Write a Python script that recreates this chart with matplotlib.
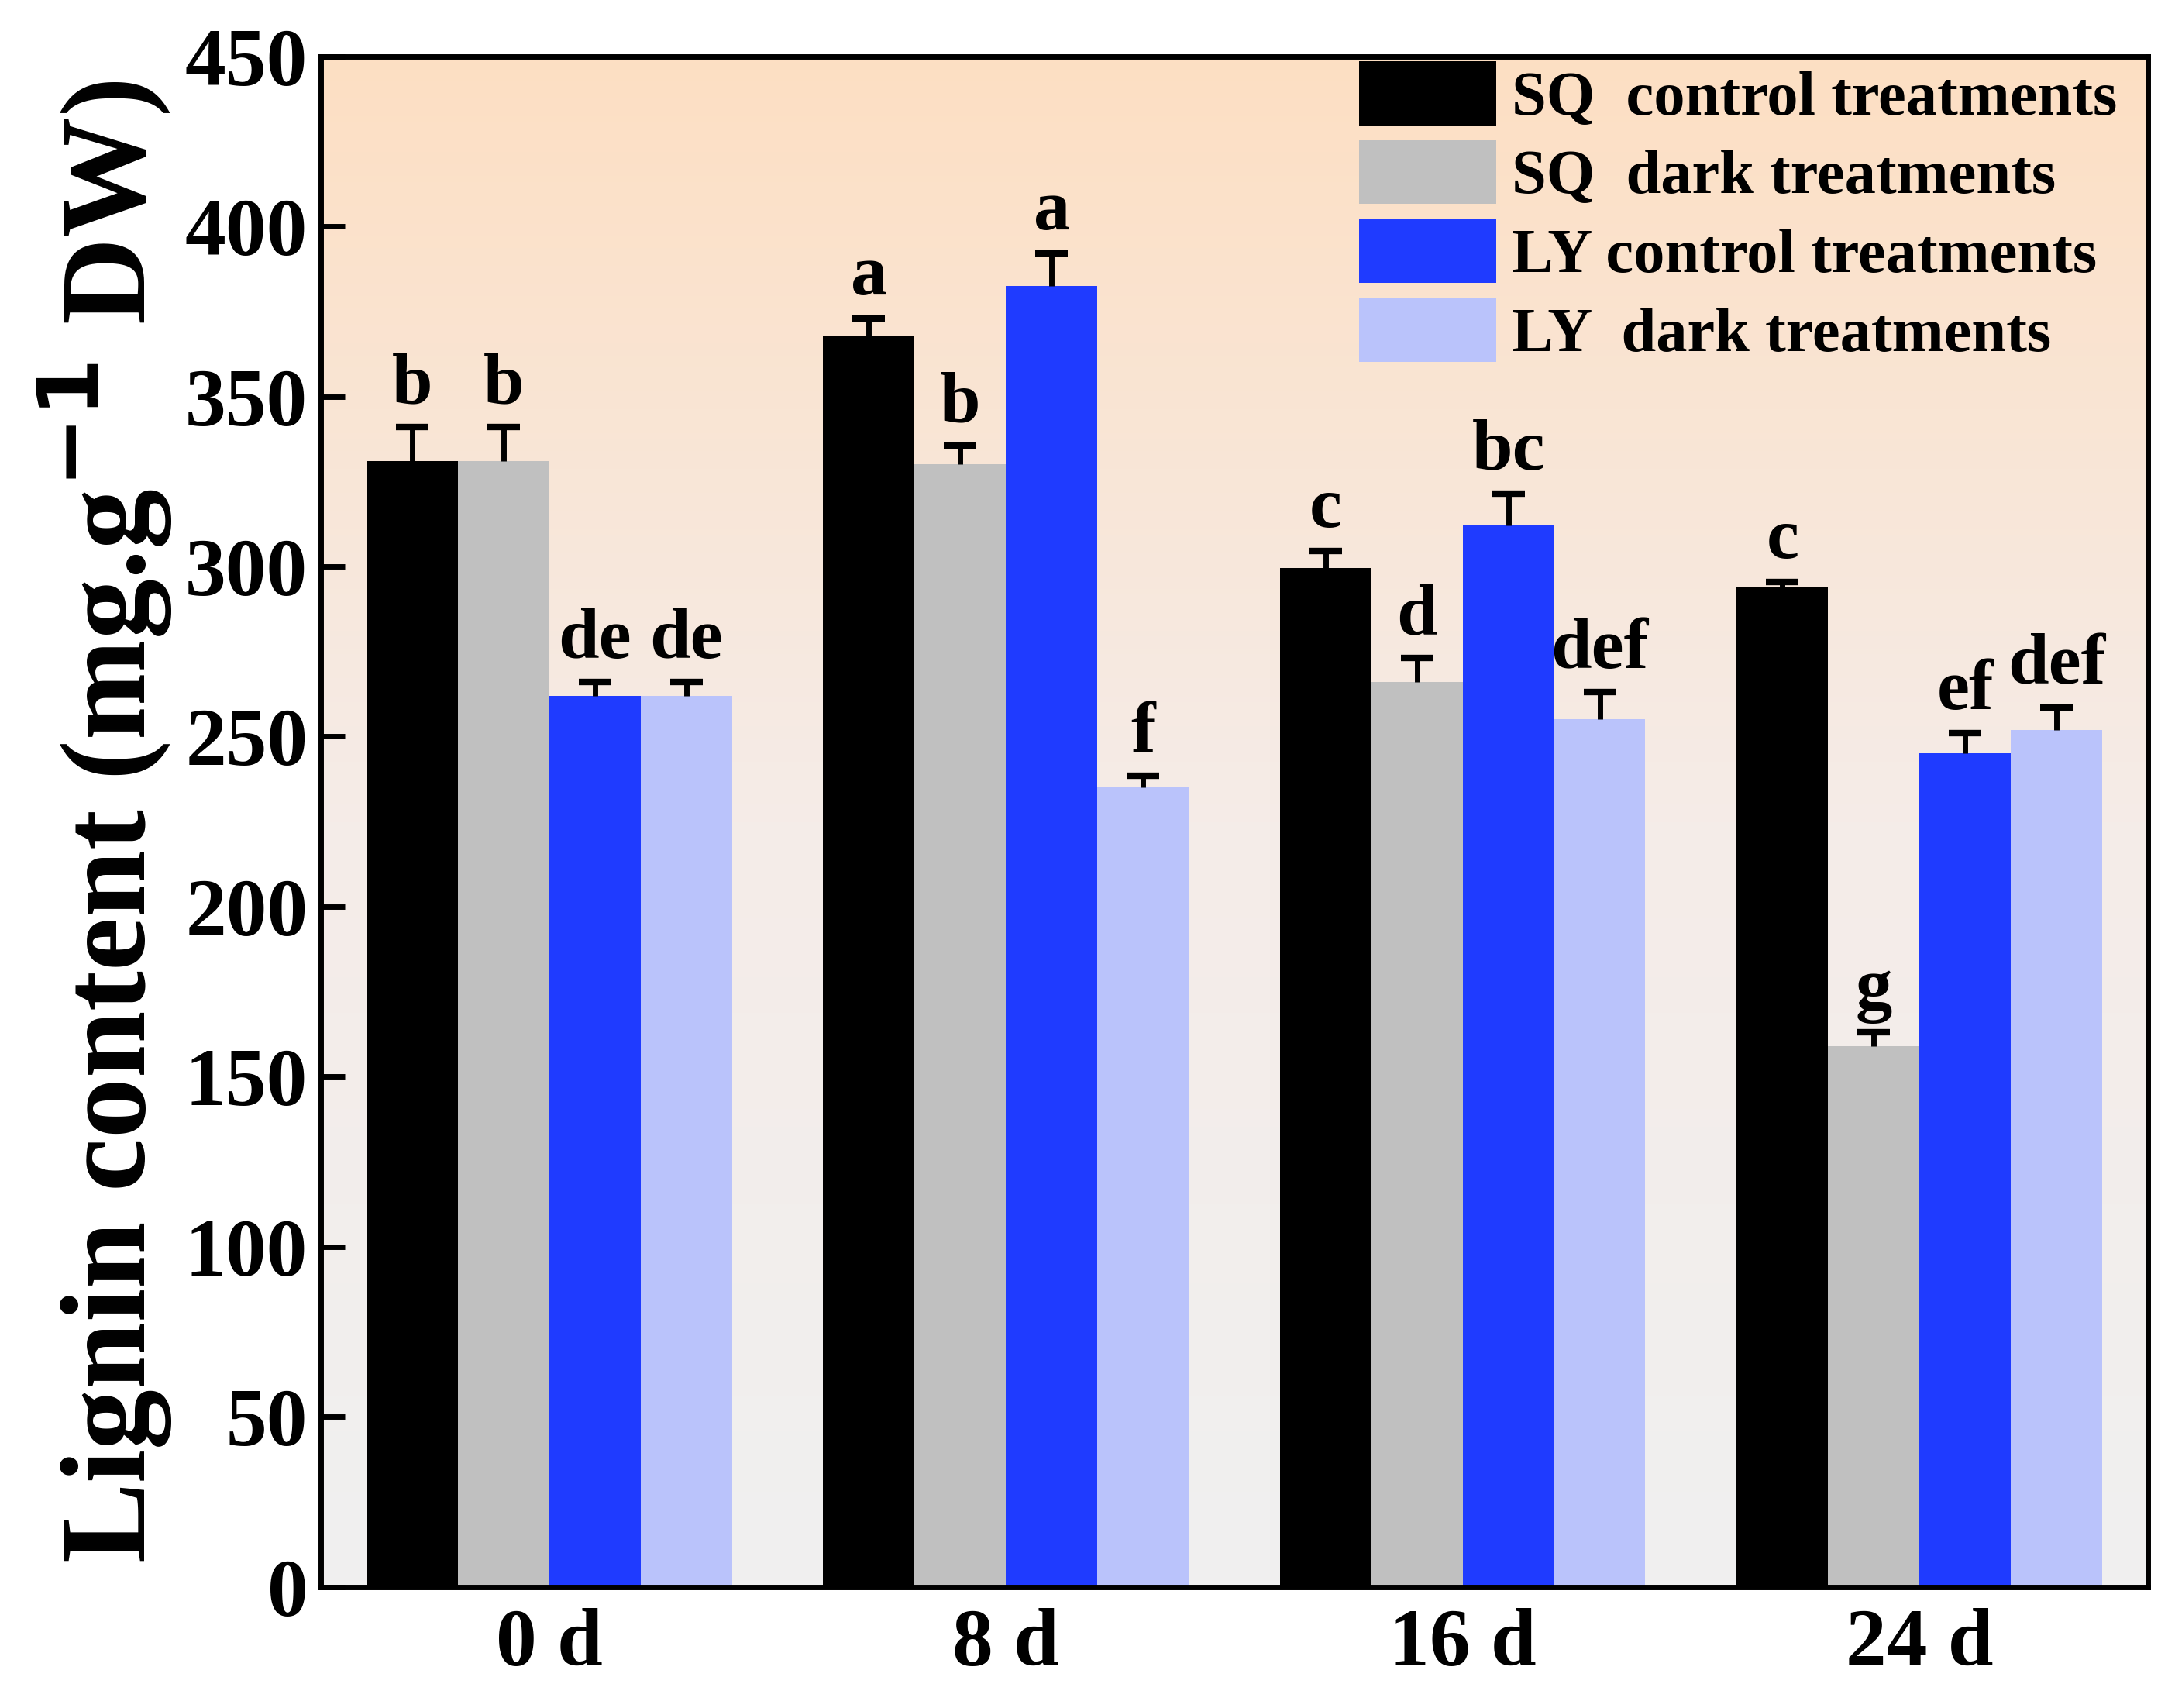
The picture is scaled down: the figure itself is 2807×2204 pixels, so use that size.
import numpy as np
import matplotlib
matplotlib.use("Agg")
import matplotlib.pyplot as plt
from matplotlib.colors import LinearSegmentedColormap

plt.rcParams['font.family'] = ['Liberation Serif', 'DejaVu Serif']
plt.rcParams['font.weight'] = 'bold'
plt.rcParams['mathtext.default'] = 'bf'

days = ["0 d", "8 d", "16 d", "24 d"]
series = ["SQ  control treatments", "SQ  dark treatments",
          "LY control treatments", "LY  dark treatments"]
colors = ["#000000", "#C0C0C0", "#1F3BFF", "#BAC3FB"]

sq_control = [331, 368, 299.5, 294]
sq_dark = [331, 330, 266, 159]
ly_control = [262, 382.5, 312, 245]
ly_dark = [262, 235, 255, 252]
values = [sq_control, sq_dark, ly_control, ly_dark]

sq_control_err = [10, 5, 5, 1.5]
sq_dark_err = [10, 5.5, 7, 4]
ly_control_err = [4, 9.5, 9.5, 6]
ly_dark_err = [4, 3.5, 8, 6.5]
errors = [sq_control_err, sq_dark_err, ly_control_err, ly_dark_err]

sq_control_lbl = ["b", "a", "c", "c"]
sq_dark_lbl = ["b", "b", "d", "g"]
ly_control_lbl = ["de", "a", "bc", "ef"]
ly_dark_lbl = ["de", "f", "def", "def"]
letters = [sq_control_lbl, sq_dark_lbl, ly_control_lbl, ly_dark_lbl]

fig = plt.figure(figsize=(28.07, 22.04), dpi=100)
ax = fig.add_axes([0.1475, 0.071, 0.84, 0.896])

# background gradient
grad = LinearSegmentedColormap.from_list("bg", ["#F0F0F0", "#F5ECE8", "#FDDFC3"])
ax.imshow(np.linspace(0, 1, 256).reshape(-1, 1), cmap=grad, aspect='auto',
          extent=[-0.5, 3.5, 0, 450], origin='lower', zorder=0)

x = np.arange(len(days))
width = 0.2
offsets = [-0.3, -0.1, 0.1, 0.3]
for i in range(4):
    pos = x + offsets[i]
    vals = np.array(values[i])
    tops = vals + np.array(errors[i])
    ax.bar(pos, vals, width, color=colors[i], label=series[i], zorder=2)
    # upper error bar only
    ax.vlines(pos, vals, tops, color='black', linewidth=5, zorder=3)
    ax.plot(pos, tops, linestyle='none', marker='_', markersize=30,
            markeredgewidth=6, color='black', zorder=3)
    for j in range(4):
        ax.annotate(letters[i][j], (pos[j], tops[j]),
                    xytext=(0, 8), textcoords='offset points', ha='center',
                    va='bottom', fontsize=68, fontweight='bold')

ax.set_xlim(-0.5, 3.5)
ax.set_ylim(0, 450)
ax.set_yticks(np.arange(0, 451, 50))
ax.set_xticks(x)
ax.set_xticklabels(days)
ax.tick_params(axis='y', direction='in', length=22, width=5, labelsize=76, pad=12)
ax.tick_params(axis='x', length=0, labelsize=76, pad=20)
for s in ax.spines.values():
    s.set_linewidth(5)
ax.set_ylabel("Lignin content (mg.g$^{-1}$ DW)", fontsize=112, fontweight='bold', labelpad=10)

leg = ax.legend(loc='upper right', bbox_to_anchor=(0.997, 1.013), fontsize=58,
                frameon=False, handlelength=2.2, handleheight=1.2,
                handletextpad=0.25, labelspacing=0.2, borderaxespad=0.0)

fig.savefig("out.png", dpi=100)
